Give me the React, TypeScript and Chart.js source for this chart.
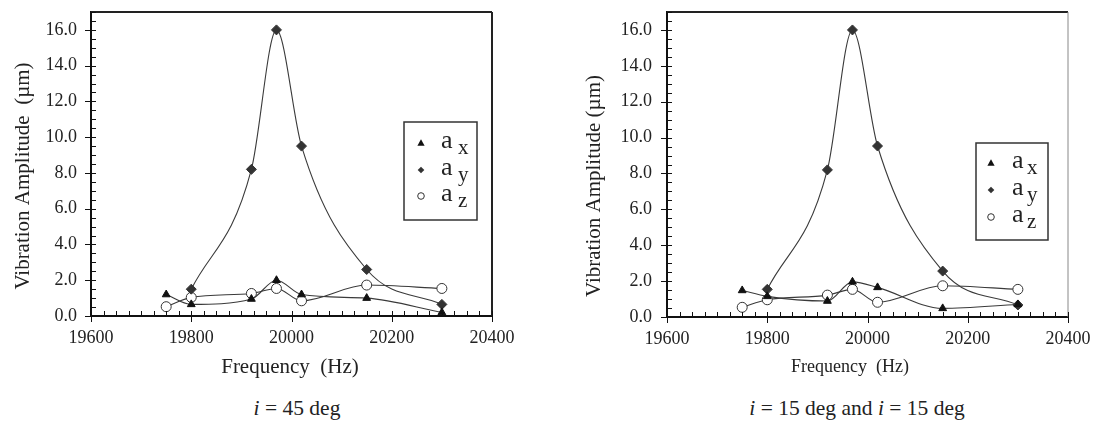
import React, { useEffect, useRef } from "react";
import { Chart, registerables } from "chart.js";

Chart.register(...registerables);

// ---------- data ----------
const frequencies = [19750, 19800, 19920, 19970, 20020, 20150, 20300];

const ax45 = [1.2, 0.65, 0.95, 2.0, 1.2, 1.0, 0.2];
const ay45 = [null, 1.5, 8.2, 16.0, 9.5, 2.6, 0.65];
const az45 = [0.52, 1.04, 1.26, 1.54, 0.85, 1.73, 1.54];

const ax15 = [1.48, 1.15, 0.89, 1.96, 1.65, 0.48, 0.7];
const ay15 = [null, 1.54, 8.2, 16.0, 9.53, 2.56, 0.67];
const az15 = [0.54, 0.96, 1.22, 1.54, 0.82, 1.74, 1.54];

const seriesNames = ["x", "y", "z"];
const xTickValues = [19600, 19800, 20000, 20200, 20400];
const yTickValues = [0, 2, 4, 6, 8, 10, 12, 14, 16];
const captions = ["45 deg", "15 deg and "];

const SERIF = "'Liberation Serif', serif";
Chart.defaults.font.family = SERIF;

type Cfg = {
  left: number;
  width: number;
  height: number;
  plot: { l: number; t: number; r: number; b: number };
  ax: (number | null)[];
  ay: (number | null)[];
  az: (number | null)[];
  tickFont: number;
  yTickPad: number;
  yTitle: string;
  yTitleFont: number;
  yTitlePos: [number, number];
  xTitle: string;
  xTitleFont: number;
  xTitlePos: [number, number];
  legend: { x: number; y: number; w: number; h: number; rows: number[]; mx: number; ax: number; sx: number };
  rightBorder: { color: string; width: number };
};

const charts: Cfg[] = [
  {
    left: 0,
    width: 545,
    height: 395,
    plot: { l: 91, t: 12, r: 492, b: 316 },
    ax: ax45,
    ay: ay45,
    az: az45,
    tickFont: 18,
    yTickPad: 14,
    yTitle: "Vibration Amplitude  (\u00b5m)",
    yTitleFont: 21,
    yTitlePos: [23, 176],
    xTitle: "Frequency  (Hz)",
    xTitleFont: 21,
    xTitlePos: [290, 367],
    legend: { x: 404, y: 122, w: 73, h: 98, rows: [21, 48, 74], mx: 17, ax: 37, sx: 54 },
    rightBorder: { color: "#222", width: 2 },
  },
  {
    left: 548,
    width: 548,
    height: 395,
    plot: { l: 119, t: 12, r: 520, b: 317 },
    ax: ax15,
    ay: ay15,
    az: az15,
    tickFont: 18,
    yTickPad: 15,
    yTitle: "Vibration Amplitude (\u00b5m)",
    yTitleFont: 21,
    yTitlePos: [46, 186],
    xTitle: "Frequency  (Hz)",
    xTitleFont: 18,
    xTitlePos: [302, 367],
    legend: { x: 428, y: 143, w: 72, h: 97, rows: [20, 47, 74], mx: 15, ax: 36, sx: 51 },
    rightBorder: { color: "#888", width: 1 },
  },
];

function toPoints(vals: (number | null)[]) {
  return frequencies.map((f, i) => ({ x: f, y: vals[i] }));
}

function drawMarker(ctx: CanvasRenderingContext2D, kind: number, x: number, y: number, r: number) {
  ctx.save();
  ctx.beginPath();
  if (kind === 0) {
    ctx.moveTo(x, y - r);
    ctx.lineTo(x + r * 0.95, y + r * 0.7);
    ctx.lineTo(x - r * 0.95, y + r * 0.7);
    ctx.closePath();
    ctx.fillStyle = "#111";
    ctx.fill();
  } else if (kind === 1) {
    ctx.moveTo(x, y - r);
    ctx.lineTo(x + r, y);
    ctx.lineTo(x, y + r);
    ctx.lineTo(x - r, y);
    ctx.closePath();
    ctx.fillStyle = "#333";
    ctx.fill();
  } else {
    ctx.arc(x, y, r, 0, Math.PI * 2);
    ctx.fillStyle = "#fff";
    ctx.fill();
    ctx.lineWidth = 1;
    ctx.strokeStyle = "#333";
    ctx.stroke();
  }
  ctx.restore();
}

const decorPlugin = {
  id: "decor",
  afterDraw(chart: any, _args: any, opts: any) {
    const cfg: Cfg = opts.cfg;
    const ctx: CanvasRenderingContext2D = chart.ctx;
    const xs = chart.scales.x;
    const ys = chart.scales.y;
    const l = chart.chartArea.left;
    const t = chart.chartArea.top;
    const r = chart.chartArea.right;
    const b = chart.chartArea.bottom;
    ctx.save();
    // frame top & right
    ctx.strokeStyle = "#222";
    ctx.lineWidth = 2;
    ctx.beginPath();
    ctx.moveTo(l, t);
    ctx.lineTo(r, t);
    ctx.stroke();
    ctx.strokeStyle = cfg.rightBorder.color;
    ctx.lineWidth = cfg.rightBorder.width;
    ctx.beginPath();
    ctx.moveTo(r, t);
    ctx.lineTo(r, b);
    ctx.stroke();
    // ticks
    ctx.strokeStyle = "#111";
    ctx.lineWidth = 1;
    for (let v = xs.min; v <= xs.max + 0.1; v += 25) {
      const px = Math.round(xs.getPixelForValue(v)) + 0.5;
      ctx.beginPath();
      ctx.moveTo(px, b - 5);
      ctx.lineTo(px, b);
      if (Math.round(v) % 200 === 0) ctx.lineTo(px, b + 6);
      ctx.stroke();
    }
    for (let v = ys.min; v <= ys.max + 0.001; v += 0.5) {
      const py = Math.round(ys.getPixelForValue(v)) + 0.5;
      ctx.beginPath();
      ctx.moveTo(l + 5, py);
      ctx.lineTo(l, py);
      if (Math.abs(v % 2) < 1e-6) ctx.lineTo(l - 6, py);
      ctx.stroke();
    }
    // titles
    ctx.fillStyle = "#222";
    ctx.textAlign = "center";
    ctx.textBaseline = "middle";
    ctx.font = `${cfg.xTitleFont}px ${SERIF}`;
    ctx.fillText(cfg.xTitle, cfg.xTitlePos[0], cfg.xTitlePos[1]);
    ctx.save();
    ctx.translate(cfg.yTitlePos[0], cfg.yTitlePos[1]);
    ctx.rotate(-Math.PI / 2);
    ctx.font = `${cfg.yTitleFont}px ${SERIF}`;
    ctx.fillText(cfg.yTitle, 0, 0);
    ctx.restore();
    // legend
    const lg = cfg.legend;
    ctx.fillStyle = "#fff";
    ctx.fillRect(lg.x, lg.y, lg.w, lg.h);
    ctx.strokeStyle = "#333";
    ctx.lineWidth = 1.5;
    ctx.strokeRect(lg.x, lg.y, lg.w, lg.h);
    lg.rows.forEach((dy, i) => {
      const y = lg.y + dy;
      drawMarker(ctx, i, lg.x + lg.mx, y, i === 0 ? 3.8 : 3.3);
      ctx.fillStyle = "#222";
      ctx.textAlign = "left";
      ctx.textBaseline = "alphabetic";
      ctx.font = `26px ${SERIF}`;
      ctx.fillText("a", lg.x + lg.ax, y + 5);
      ctx.font = `21px ${SERIF}`;
      ctx.fillText(seriesNames[i], lg.x + lg.sx, y + 11);
    });
    ctx.restore();
  },
};

function makeDataset(label: string, vals: (number | null)[], style: any) {
  return {
    label,
    data: toPoints(vals),
    borderColor: "#3a3a3a",
    borderWidth: 1.1,
    cubicInterpolationMode: "monotone",
    tension: 0.4,
    spanGaps: true,
    fill: false,
    ...style,
  };
}

function ChartPanel({ cfg }: { cfg: Cfg }) {
  const ref = useRef<HTMLCanvasElement>(null);
  useEffect(() => {
    if (!ref.current) return;
    const { l, t, r, b } = cfg.plot;
    const tickFont = { family: SERIF, size: cfg.tickFont };
    const chart = new Chart(ref.current, {
      type: "line",
      data: {
        datasets: [
          makeDataset("a x", cfg.ax, {
            pointStyle: "triangle",
            pointRadius: 4.5,
            pointBackgroundColor: "#111",
            pointBorderColor: "#111",
            pointBorderWidth: 1,
          }),
          makeDataset("a y", cfg.ay, {
            pointStyle: "rectRot",
            pointRadius: 5,
            pointBackgroundColor: "#333",
            pointBorderColor: "#333",
            pointBorderWidth: 1,
          }),
          makeDataset("a z", cfg.az, {
            pointStyle: "circle",
            pointRadius: 5,
            pointBackgroundColor: "#fff",
            pointBorderColor: "#333",
            pointBorderWidth: 1,
          }),
        ],
      },
      options: {
        responsive: false,
        animation: false,
        layout: { padding: { left: 0, top: t, right: cfg.width - r, bottom: 0 } },
        plugins: {
          legend: { display: false },
          tooltip: { enabled: false },
          decor: { cfg },
        } as any,
        scales: {
          x: {
            type: "linear",
            min: xTickValues[0],
            max: xTickValues[xTickValues.length - 1],
            grid: { display: false, drawTicks: false },
            border: { display: true, color: "#111", width: 2 },
            afterBuildTicks: (s: any) => {
              s.ticks = xTickValues.map((v) => ({ value: v }));
            },
            afterFit: (s: any) => {
              s.height = cfg.height - b;
              s.paddingLeft = 0;
              s.paddingRight = 0;
            },
            ticks: {
              padding: 11,
              color: "#222",
              font: tickFont,
              maxRotation: 0,
              callback: (v: any) => String(v),
            },
          },
          y: {
            type: "linear",
            min: 0,
            max: 17,
            grid: { display: false, drawTicks: false },
            border: { display: true, color: "#111", width: 2 },
            afterBuildTicks: (s: any) => {
              s.ticks = yTickValues.map((v) => ({ value: v }));
            },
            afterFit: (s: any) => {
              s.width = l;
              s.paddingTop = 0;
              s.paddingBottom = 0;
            },
            ticks: {
              padding: cfg.yTickPad,
              color: "#222",
              font: tickFont,
              callback: (v: any) => Number(v).toFixed(1),
            },
          },
        },
      },
      plugins: [decorPlugin],
    } as any);
    return () => chart.destroy();
  }, [cfg]);
  return (
    <canvas
      ref={ref}
      width={cfg.width}
      height={cfg.height}
      style={{ position: "absolute", left: cfg.left, top: 0, width: cfg.width, height: cfg.height }}
    />
  );
}

export default function App() {
  const capStyle: React.CSSProperties = {
    position: "absolute",
    top: 396,
    fontFamily: SERIF,
    fontSize: 21.5,
    color: "#222",
    whiteSpace: "nowrap",
    transform: "translateX(-50%)",
    lineHeight: "24px",
  };
  return (
    <div style={{ position: "absolute", left: 0, top: 0, width: 1096, height: 421, background: "#fff", overflow: "hidden" }}>
      {charts.map((c, i) => (
        <ChartPanel key={i} cfg={c} />
      ))}
      <div style={{ ...capStyle, left: 297 }}>
        <i>i</i> = {captions[0]}
      </div>
      <div style={{ ...capStyle, left: 857 }}>
        <i>i</i> = {captions[1]}
        <i>i</i> = 15 deg
      </div>
    </div>
  );
}
